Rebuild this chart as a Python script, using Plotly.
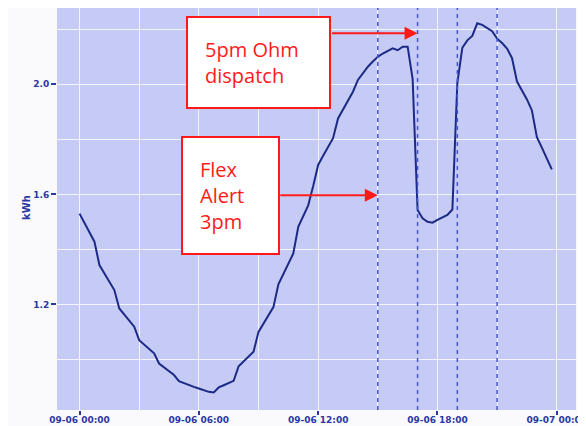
import plotly.graph_objects as go
import pandas as pd

# ---- data ----
start_time = "2022-09-06 00:00"
step_minutes = 15
kwh = [
    1.530, 1.497, 1.462, 1.428, 1.343, 1.313, 1.282, 1.252,
    1.185, 1.163, 1.141, 1.119, 1.070, 1.054, 1.038, 1.022,
    0.985, 0.971, 0.957, 0.943, 0.921, 0.914, 0.905, 0.900,
    0.894, 0.887, 0.882, 0.880, 0.898, 0.906, 0.913, 0.922,
    0.975, 0.992, 1.010, 1.028, 1.100, 1.130, 1.160, 1.190,
    1.273, 1.310, 1.347, 1.385, 1.482, 1.520, 1.560, 1.630,
    1.707, 1.740, 1.770, 1.804, 1.876, 1.910, 1.940, 1.973,
    2.016, 2.040, 2.064, 2.083, 2.100, 2.112, 2.122, 2.131,
    2.124, 2.137, 2.137, 2.020, 1.543, 1.513, 1.500, 1.497,
    1.507, 1.516, 1.525, 1.545, 2.005, 2.133, 2.160, 2.176,
    2.222, 2.216, 2.205, 2.193, 2.166, 2.150, 2.130, 2.095,
    2.010, 1.978, 1.945, 1.905, 1.808, 1.770, 1.730, 1.691,
]
event_times = ["2022-09-06 15:00", "2022-09-06 17:00",
               "2022-09-06 19:00", "2022-09-06 21:00"]
callout_texts = ["5pm Ohm<br>dispatch", "Flex<br>Alert<br>3pm"]
callout_targets = [("2022-09-06 17:00", 2.186), ("2022-09-06 15:00", 1.597)]
y_title = "kWh"

times = pd.date_range(start_time, periods=len(kwh), freq=f"{step_minutes}min")

NAVY = "#1c2a85"
TICK = "#2b37a3"
RED = "#ff1a1a"

fig = go.Figure()
fig.add_trace(go.Scatter(x=times, y=kwh, mode="lines",
                         line=dict(color=NAVY, width=2), showlegend=False))

for t in event_times:
    fig.add_shape(type="line", xref="x", yref="paper", x0=t, x1=t, y0=0, y1=1,
                  line=dict(color="#4555cc", width=1.5, dash="4px,4px"))

# callout boxes
fig.add_annotation(x="2022-09-06 09:00", y=2.078, xref="x", yref="y",
                   text=callout_texts[0], showarrow=False, align="left",
                   width=107, height=55, borderpad=17, borderwidth=2,
                   bordercolor=RED, bgcolor="white",
                   font=dict(family="Open Sans", size=20, color=RED))
fig.add_annotation(x="2022-09-06 07:36", y=1.596, xref="x", yref="y",
                   text=callout_texts[1], showarrow=False, align="left",
                   width=61, height=81, borderpad=17, borderwidth=2,
                   bordercolor=RED, bgcolor="white",
                   font=dict(family="Open Sans", size=20, color=RED))
# arrows
for (tx, ty), ax in zip(callout_targets, [-87, -99]):
    fig.add_annotation(x=tx, y=ty, xref="x", yref="y", text="",
                       showarrow=True, ax=ax, ay=0, arrowhead=2,
                       arrowsize=1.3, arrowwidth=2, arrowcolor=RED, standoff=0)

# y-axis title as a rotated label
fig.add_annotation(x=-0.058, y=0.505, xref="paper", yref="paper",
                   text=y_title, textangle=-90, showarrow=False,
                   xanchor="center", yanchor="middle",
                   font=dict(family="DejaVu Sans", size=10, color=TICK, weight="bold"))

fig.update_layout(
    width=578, height=418,
    margin=dict(l=49, r=10, t=0, b=16, autoexpand=False),
    paper_bgcolor="#fafafd",
    plot_bgcolor="#c5cbf5",
    font=dict(family="DejaVu Sans", color=TICK),
)
fig.update_xaxes(
    automargin=False,
    range=["2022-09-05 22:52", "2022-09-07 00:58"],
    dtick=6 * 3600 * 1000, tick0="2022-09-06 00:00",
    tickformat="%m-%d %H:%M",
    tickfont=dict(family="DejaVu Sans", size=9, color=TICK, weight="bold"),
    ticks="outside", ticklen=4, tickcolor=TICK, tickwidth=1.5,
    ticklabelstandoff=-3, ticklabeloverflow="allow",
    showgrid=True, gridcolor="rgba(255,255,255,0.8)", gridwidth=1.2,
    minor=dict(dtick=3 * 3600 * 1000, showgrid=True,
               gridcolor="rgba(255,255,255,0.8)", gridwidth=1.2),
    zeroline=False, showline=False,
)
fig.update_yaxes(
    automargin=False,
    range=[0.816, 2.2775],
    dtick=0.4, tick0=0, tickformat=".1f",
    tickfont=dict(family="DejaVu Sans", size=9, color=TICK, weight="bold"),
    ticks="outside", ticklen=5, tickcolor=TICK, tickwidth=1.5,
    showgrid=True, gridcolor="rgba(255,255,255,0.8)", gridwidth=1.2,
    minor=dict(dtick=0.2, showgrid=True,
               gridcolor="rgba(255,255,255,0.8)", gridwidth=1.2),
    zeroline=False, showline=False,
)

fig.write_html("out.html")
